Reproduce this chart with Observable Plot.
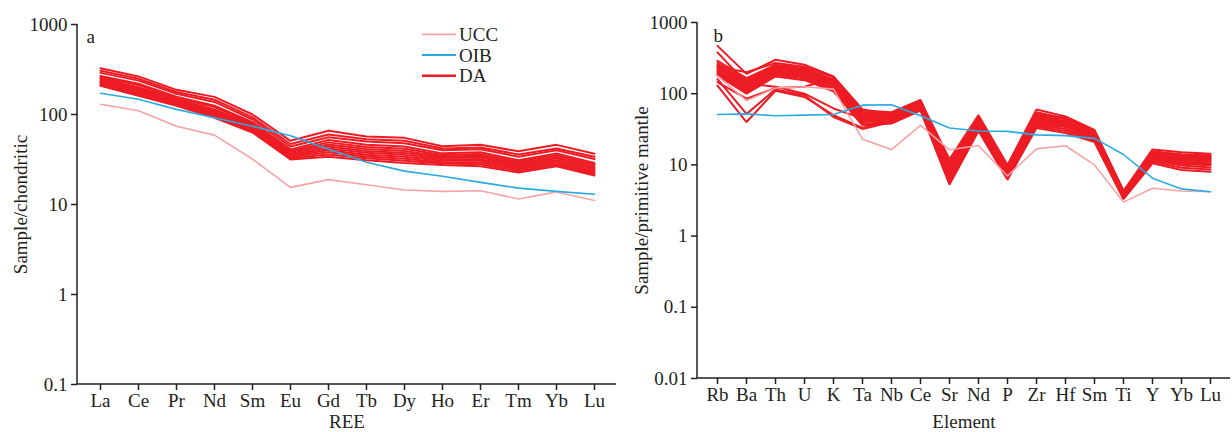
<!DOCTYPE html>
<html>
<head>
<meta charset="utf-8">
<script src="https://cdn.jsdelivr.net/npm/d3@7"></script>
<script src="https://cdn.jsdelivr.net/npm/@observablehq/plot@0.6"></script>
<style>
  body { margin: 0; background: #fff; }
  #wrap { display: flex; width: 1232px; height: 432px; }
</style>
</head>
<body>
<div id="wrap"></div>
<script>
// ---------- data ----------
const reeElements = ["La","Ce","Pr","Nd","Sm","Eu","Gd","Tb","Dy","Ho","Er","Tm","Yb","Lu"];
const reeUCC = [130, 110, 74, 59, 32, 15.5, 18.9, 16.6, 14.5, 14, 14.2, 11.5, 13.8, 11.1];
const reeOIB = [172, 148, 114, 92, 74, 58, 41, 29.5, 23.5, 20.6, 17.6, 15.2, 14, 13];
const reeDA = [
  [326, 265, 188, 157, 100, 51, 66, 57, 55, 44.5, 46, 39, 46, 36.6],
  [307, 250, 178, 146, 93, 47, 60, 53, 51, 42, 43, 36, 42, 34],
  [290, 238, 170, 138, 88, 44, 56, 50, 48, 40, 41, 34, 40, 32],
  [268, 220, 158, 125, 82, 41, 52, 46, 44, 37, 38, 31, 37, 29],
  [258, 212, 152, 121, 79, 39.6, 49, 43.5, 41.6, 35.5, 36.3, 29.8, 35.4, 27.8],
  [249, 201, 148, 114, 77, 38.3, 46.5, 41.3, 39.4, 34.2, 34.8, 28.7, 34, 26.7],
  [241, 193, 143, 110, 74, 37, 44, 39.3, 37.4, 33, 33.3, 27.6, 32.6, 25.6],
  [233, 186, 138, 106, 71, 35.8, 42, 37.5, 35.6, 31.8, 31.9, 26.6, 31.3, 24.6],
  [226, 178, 135, 102, 69, 34.7, 40, 35.8, 33.9, 30.6, 30.6, 25.6, 30, 23.6],
  [220, 172, 131, 98, 67, 33.6, 38, 34.2, 32.3, 29.5, 29.3, 24.6, 28.8, 22.7],
  [214, 166, 128, 95, 65, 32.6, 36, 32.6, 30.6, 28.5, 28, 23.6, 27.7, 21.8],
  [208, 161, 125, 92, 63, 31.6, 34, 31, 29, 27.5, 26.6, 22.7, 26.6, 21]
];

const spiderElements = ["Rb","Ba","Th","U","K","Ta","Nb","Ce","Sr","Nd","P","Zr","Hf","Sm","Ti","Y","Yb","Lu"];
const spiderUCC = [178, 80, 120, 125, 116, 23, 16.4, 36, 16.3, 18.7, 7.0, 16.8, 18.6, 10, 3.0, 4.7, 4.3, 4.2];
const spiderOIB = [51, 52, 49, 50, 51, 69, 70, 49, 33, 30, 29.6, 26.4, 25.8, 23.6, 14, 6.5, 4.6, 4.2];
const spiderDA = [
  [290, 165, 255, 230, 158, 58, 55, 82, 9.5, 47, 9.5, 49, 46, 30, 4.3, 15, 14, 13.5],
  [270, 155, 245, 221, 152, 55, 53, 79, 9, 45, 9.1, 47, 44, 29, 4.2, 14.5, 13.4, 12.9],
  [255, 147, 236, 212, 146, 52, 51, 76, 8.5, 43, 8.7, 45, 42, 28, 4.1, 14, 12.8, 12.3],
  [240, 140, 227, 203, 140, 49, 49, 73, 8, 41, 8.3, 43, 40, 27, 4.0, 13.5, 12.2, 11.7],
  [228, 133, 218, 195, 134, 47, 47, 70, 7.5, 39, 7.9, 41, 38, 26, 3.9, 13, 11.6, 11.1],
  [216, 126, 209, 187, 128, 45, 45, 67, 7, 37, 7.5, 39, 36, 25, 3.8, 12.5, 11, 10.5],
  [206, 119, 200, 179, 122, 43, 43, 65, 6.6, 35, 7.2, 37.5, 34, 24, 3.7, 12, 10.4, 9.9],
  [196, 112, 191, 171, 117, 41, 41, 63, 6.2, 33, 6.9, 36, 32, 23, 3.6, 11.5, 9.8, 9.2],
  [188, 106, 183, 163, 112, 38, 39.5, 60, 5.8, 31.5, 6.5, 34.5, 30, 22, 3.45, 11, 9.1, 8.6],
  [180, 100, 175, 155, 108, 36, 38, 58, 5.3, 30, 6.2, 33, 28, 21, 3.3, 10.5, 8.5, 8],
  [470, 190, 300, 255, 175, 60, 52, 80, 12, 50, 10, 60, 48, 31, 4.3, 16.5, 15, 14.3],
  [380, 140, 125, 100, 62, 45, 48, 75, 11, 45, 9, 55, 45, 29, 4.1, 14, 13, 12.5],
  [160, 52, 115, 95, 47, 32, 40, 62, 8, 38, 8, 40, 38, 26, 3.8, 12, 11, 10.5],
  [130, 40, 110, 90, 50, 33, 42, 65, 7, 36, 7.5, 38, 36, 25, 3.6, 12, 10.5, 10],
  [240, 200, 270, 240, 170, 55, 50, 78, 10, 44, 9, 52, 46, 30, 4, 15.5, 14, 13.5],
  [145, 85, 120, 125, 165, 40, 45, 70, 9, 40, 8.5, 45, 40, 27, 3.9, 13, 12, 11.5]
];

const reeTicks = [0.1, 1, 10, 100, 1000];
const spiderTicks = [0.01, 0.1, 1, 10, 100, 1000];
const seriesNames = ["UCC", "OIB", "DA"];
const seriesColors = ["#f5a3a6", "#29abe2", "#ed1c24"];

// ---------- helpers ----------
const ink = "#231f20";
const fontFamily = "'Liberation Serif', 'Times New Roman', serif";

function toRows(elements, values, sample) {
  return elements.map((el, i) => ({el, v: values[i], sample}));
}

function axisFrame(index, scales, values, dims) {
  const {width, height, marginLeft, marginRight, marginTop, marginBottom} = dims;
  const g = d3.create("svg:g")
    .attr("fill", "none").attr("stroke", ink).attr("stroke-width", 1.5);
  g.append("path")
    .attr("d", `M${marginLeft},${marginTop}V${height - marginBottom}H${width - marginRight}`);
  return g.node();
}

function legendMark(index, scales, values, dims) {
  const g = d3.create("svg:g").attr("text-anchor", "start");
  seriesNames.forEach((name, i) => {
    const y = 34.3 + i * 20.7;
    g.append("line")
      .attr("x1", 422).attr("x2", 456).attr("y1", y).attr("y2", y)
      .attr("stroke", seriesColors[i])
      .attr("stroke-width", name === "DA" ? 2.6 : 1.8);
    g.append("text")
      .attr("x", 459).attr("y", y).attr("dy", "0.35em")
      .attr("text-anchor", "start")
      .attr("fill", ink).attr("font-size", 19)
      .text(name);
  });
  return g.node();
}

function panel({elements, ucc, oib, da, ticks, width, marginLeft, marginRight, marginTop, marginBottom,
                yLabel, xLabel, letter, letterDx, letterDy, yLabelDx, xLabelDy, legend}) {
  const daRows = da.flatMap((s, k) => toRows(elements, s, "DA" + k));
  const uccRows = toRows(elements, ucc, "UCC");
  const oibRows = toRows(elements, oib, "OIB");
  const marks = [
    Plot.line(daRows, {x: "el", y: "v", z: "sample", stroke: seriesColors[2], strokeWidth: 2, strokeLinejoin: "miter"}),
    Plot.line(uccRows, {x: "el", y: "v", stroke: seriesColors[0], strokeWidth: 1.6}),
    Plot.line(oibRows, {x: "el", y: "v", stroke: seriesColors[1], strokeWidth: 1.6}),
    Plot.axisY({ticks, tickFormat: d => String(d), tickSize: 6, tickPadding: 4, label: null, strokeWidth: 1.5}),
    Plot.axisX({tickSize: 6, tickPadding: 3, label: null, strokeWidth: 1.5}),
    axisFrame,
    Plot.text([yLabel], {frameAnchor: "left", rotate: -90, textAnchor: "middle", lineAnchor: "middle", dx: yLabelDx, fill: ink}),
    Plot.text([xLabel], {frameAnchor: "bottom", textAnchor: "middle", lineAnchor: "middle", dy: xLabelDy, fill: ink}),
    Plot.text([letter], {frameAnchor: "top-left", textAnchor: "start", lineAnchor: "middle", dx: letterDx, dy: letterDy, fill: ink})
  ];
  if (legend) marks.push(legendMark);
  return Plot.plot({
    width, height: 432,
    marginLeft, marginRight, marginTop, marginBottom,
    x: {type: "point", domain: elements, padding: 0.5},
    y: {type: "log", domain: [ticks[0], ticks[ticks.length - 1]]},
    style: {fontFamily, fontSize: "19px", color: ink, background: "white", overflow: "visible"},
    marks
  });
}

const left = panel({
  elements: reeElements, ucc: reeUCC, oib: reeOIB, da: reeDA, ticks: reeTicks,
  width: 620, marginLeft: 77, marginRight: 4, marginTop: 24, marginBottom: 48,
  yLabel: "Sample/chondritic", xLabel: "REE", letter: "a",
  letterDx: 9, letterDy: 12, yLabelDx: -57, xLabelDy: 37, legend: true
});
const right = panel({
  elements: spiderElements, ucc: spiderUCC, oib: spiderOIB, da: spiderDA, ticks: spiderTicks,
  width: 612, marginLeft: 77, marginRight: 2, marginTop: 22, marginBottom: 54,
  yLabel: "Sample/primitive mantle", xLabel: "Element", letter: "b",
  letterDx: 16, letterDy: 13, yLabelDx: -56, xLabelDy: 43, legend: false
});
document.getElementById("wrap").append(left, right);
</script>
</body>
</html>
